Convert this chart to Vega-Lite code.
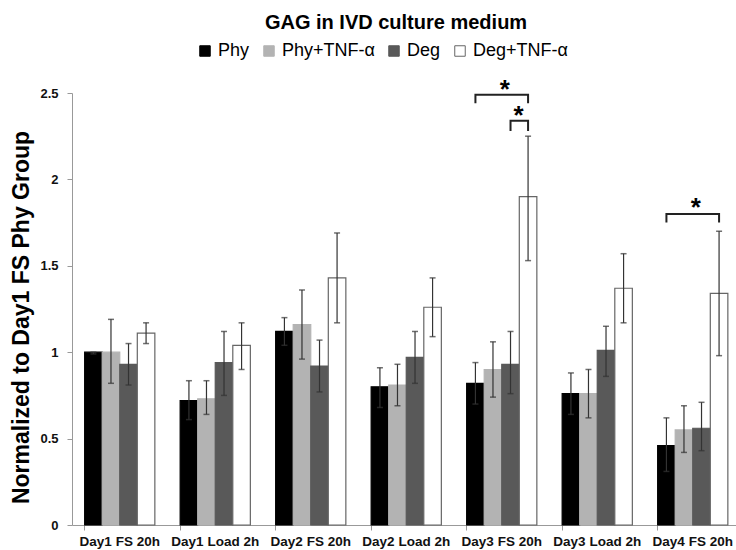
{
  "$schema": "https://vega.github.io/schema/vega-lite/v6.json",
  "width": 664,
  "height": 432,
  "autosize": {"type": "none"},
  "padding": {"left": 72, "top": 93, "right": 0, "bottom": 25},
  "background": "white",
  "title": {
    "text": "GAG in IVD culture medium",
    "font": "Liberation Sans",
    "fontSize": 20,
    "fontWeight": "bold",
    "color": "black",
    "anchor": "middle",
    "offset": 9,
    "dx": -8
  },
  "config": {"view": {"stroke": null}},
  "datasets": {
    "bars": [
      {"group": "Day1 FS 20h", "series": "Phy", "value": 1.0, "lo": 0.99, "hi": 1.0},
      {"group": "Day1 FS 20h", "series": "Phy+TNF-α", "value": 1.0, "lo": 0.82, "hi": 1.19},
      {"group": "Day1 FS 20h", "series": "Deg", "value": 0.93, "lo": 0.81, "hi": 1.05},
      {"group": "Day1 FS 20h", "series": "Deg+TNF-α", "value": 1.11, "lo": 1.05, "hi": 1.17},
      {"group": "Day1 Load 2h", "series": "Phy", "value": 0.72, "lo": 0.61, "hi": 0.835},
      {"group": "Day1 Load 2h", "series": "Phy+TNF-α", "value": 0.73, "lo": 0.64, "hi": 0.835},
      {"group": "Day1 Load 2h", "series": "Deg", "value": 0.94, "lo": 0.75, "hi": 1.12},
      {"group": "Day1 Load 2h", "series": "Deg+TNF-α", "value": 1.04, "lo": 0.9, "hi": 1.17},
      {"group": "Day2 FS 20h", "series": "Phy", "value": 1.12, "lo": 1.04, "hi": 1.2},
      {"group": "Day2 FS 20h", "series": "Phy+TNF-α", "value": 1.16, "lo": 0.96, "hi": 1.36},
      {"group": "Day2 FS 20h", "series": "Deg", "value": 0.92, "lo": 0.77, "hi": 1.07},
      {"group": "Day2 FS 20h", "series": "Deg+TNF-α", "value": 1.43, "lo": 1.17, "hi": 1.69},
      {"group": "Day2 Load 2h", "series": "Phy", "value": 0.8, "lo": 0.68, "hi": 0.91},
      {"group": "Day2 Load 2h", "series": "Phy+TNF-α", "value": 0.81, "lo": 0.69, "hi": 0.93},
      {"group": "Day2 Load 2h", "series": "Deg", "value": 0.97, "lo": 0.82, "hi": 1.12},
      {"group": "Day2 Load 2h", "series": "Deg+TNF-α", "value": 1.26, "lo": 1.09, "hi": 1.43},
      {"group": "Day3 FS 20h", "series": "Phy", "value": 0.82, "lo": 0.7, "hi": 0.94},
      {"group": "Day3 FS 20h", "series": "Phy+TNF-α", "value": 0.9, "lo": 0.74, "hi": 1.06},
      {"group": "Day3 FS 20h", "series": "Deg", "value": 0.93, "lo": 0.76, "hi": 1.12},
      {"group": "Day3 FS 20h", "series": "Deg+TNF-α", "value": 1.9, "lo": 1.53, "hi": 2.25},
      {"group": "Day3 Load 2h", "series": "Phy", "value": 0.76, "lo": 0.64, "hi": 0.88},
      {"group": "Day3 Load 2h", "series": "Phy+TNF-α", "value": 0.76, "lo": 0.62, "hi": 0.9},
      {"group": "Day3 Load 2h", "series": "Deg", "value": 1.01, "lo": 0.86, "hi": 1.15},
      {"group": "Day3 Load 2h", "series": "Deg+TNF-α", "value": 1.37, "lo": 1.17, "hi": 1.57},
      {"group": "Day4 FS 20h", "series": "Phy", "value": 0.46, "lo": 0.31, "hi": 0.62},
      {"group": "Day4 FS 20h", "series": "Phy+TNF-α", "value": 0.55, "lo": 0.42, "hi": 0.69},
      {"group": "Day4 FS 20h", "series": "Deg", "value": 0.56, "lo": 0.43, "hi": 0.71},
      {"group": "Day4 FS 20h", "series": "Deg+TNF-α", "value": 1.34, "lo": 0.98, "hi": 1.7}
    ],
    "brackets": [
      {"bracket": "a", "group": "Day3 FS 20h", "series": "Phy", "y": 2.44, "ord": 1},
      {"bracket": "a", "group": "Day3 FS 20h", "series": "Phy", "y": 2.49, "ord": 2},
      {"bracket": "a", "group": "Day3 FS 20h", "series": "Deg+TNF-α", "y": 2.49, "ord": 3},
      {"bracket": "a", "group": "Day3 FS 20h", "series": "Deg+TNF-α", "y": 2.44, "ord": 4},
      {"bracket": "b", "group": "Day3 FS 20h", "series": "Deg", "y": 2.28, "ord": 1},
      {"bracket": "b", "group": "Day3 FS 20h", "series": "Deg", "y": 2.34, "ord": 2},
      {"bracket": "b", "group": "Day3 FS 20h", "series": "Deg+TNF-α", "y": 2.34, "ord": 3},
      {"bracket": "b", "group": "Day3 FS 20h", "series": "Deg+TNF-α", "y": 2.28, "ord": 4},
      {"bracket": "c", "group": "Day4 FS 20h", "series": "Phy", "y": 1.75, "ord": 1},
      {"bracket": "c", "group": "Day4 FS 20h", "series": "Phy", "y": 1.8, "ord": 2},
      {"bracket": "c", "group": "Day4 FS 20h", "series": "Deg+TNF-α", "y": 1.8, "ord": 3},
      {"bracket": "c", "group": "Day4 FS 20h", "series": "Deg+TNF-α", "y": 1.75, "ord": 4}
    ],
    "starsCenter": [
      {"group": "Day3 FS 20h", "y": 2.47, "label": "*"},
      {"group": "Day4 FS 20h", "y": 1.79, "label": "*"}
    ],
    "starsOffset": [
      {"group": "Day3 FS 20h", "series": "Deg", "y": 2.32, "label": "*"}
    ]
  },
  "encoding": {
    "x": {
      "field": "group",
      "type": "nominal",
      "sort": null,
      "scale": {"range": [0, 668.5], "paddingInner": 0.265, "paddingOuter": 0.1325},
      "axis": {
        "title": null,
        "labelAngle": 0,
        "bandPosition": 0,
        "labelFont": "Liberation Sans",
        "labelFontWeight": "bold",
        "labelFontSize": 13.5,
        "labelColor": "#111111",
        "labelPadding": 4,
        "tickSize": 5,
        "tickColor": "#999",
        "domainColor": "#999"
      }
    }
  },
  "layer": [
    {
      "data": {"name": "bars"},
      "mark": {"type": "bar", "strokeWidth": 1.2},
      "encoding": {
        "xOffset": {"field": "series", "type": "nominal", "sort": ["Phy", "Phy+TNF-α", "Deg", "Deg+TNF-α"], "scale": {"paddingInner": 0, "paddingOuter": 0}},
        "y": {
          "field": "value",
          "type": "quantitative",
          "scale": {"domain": [0, 2.5], "nice": false},
          "axis": {
            "values": [0, 0.5, 1, 1.5, 2, 2.5],
            "format": "~g",
            "grid": false,
            "title": "Normalized to Day1 FS Phy Group",
            "titleFont": "Liberation Sans",
            "titleFontSize": 23,
            "titleFontWeight": "bold",
            "titleColor": "black",
            "titlePadding": 6,
            "titleY": 224,
            "labelFont": "Liberation Sans",
            "labelFontWeight": "bold",
            "labelFontSize": 13,
            "labelColor": "#111111",
            "labelPadding": 9,
            "tickSize": 5,
            "tickColor": "#999",
            "domainColor": "#999"
          }
        },
        "fill": {
          "field": "series",
          "type": "nominal",
          "sort": ["Phy", "Phy+TNF-α", "Deg", "Deg+TNF-α"],
          "scale": {"domain": ["Phy", "Phy+TNF-α", "Deg", "Deg+TNF-α"], "range": ["#000000", "#b3b3b3", "#595959", "#ffffff"]},
          "legend": {
            "title": null,
            "orient": "none",
            "direction": "horizontal",
            "legendX": 124,
            "legendY": -51,
            "symbolType": "square",
            "symbolSize": 110,
            "symbolStrokeWidth": 1,
            "labelFont": "Liberation Sans",
            "labelFontSize": 18,
            "labelColor": "black",
            "labelOffset": 4,
            "columnPadding": 10
          }
        },
        "stroke": {
          "field": "series",
          "type": "nominal",
          "sort": ["Phy", "Phy+TNF-α", "Deg", "Deg+TNF-α"],
          "scale": {"domain": ["Phy", "Phy+TNF-α", "Deg", "Deg+TNF-α"], "range": ["#000000", "#b3b3b3", "#595959", "#666666"]},
          "legend": {
            "title": null,
            "orient": "none",
            "direction": "horizontal",
            "legendX": 124,
            "legendY": -51,
            "symbolType": "square",
            "symbolSize": 110,
            "symbolStrokeWidth": 1,
            "labelFont": "Liberation Sans",
            "labelFontSize": 18,
            "labelColor": "black",
            "labelOffset": 4,
            "columnPadding": 10
          }
        }
      }
    },
    {
      "data": {"name": "bars"},
      "mark": {"type": "rule", "color": "#333333", "strokeWidth": 1.2},
      "encoding": {
        "xOffset": {"field": "series", "type": "nominal", "sort": ["Phy", "Phy+TNF-α", "Deg", "Deg+TNF-α"]},
        "y": {"field": "lo", "type": "quantitative"},
        "y2": {"field": "hi"}
      }
    },
    {
      "data": {"name": "bars"},
      "mark": {"type": "tick", "color": "#333333", "thickness": 1.5, "size": 6},
      "encoding": {
        "xOffset": {"field": "series", "type": "nominal", "sort": ["Phy", "Phy+TNF-α", "Deg", "Deg+TNF-α"]},
        "y": {"field": "lo", "type": "quantitative"}
      }
    },
    {
      "data": {"name": "bars"},
      "mark": {"type": "tick", "color": "#333333", "thickness": 1.5, "size": 6},
      "encoding": {
        "xOffset": {"field": "series", "type": "nominal", "sort": ["Phy", "Phy+TNF-α", "Deg", "Deg+TNF-α"]},
        "y": {"field": "hi", "type": "quantitative"}
      }
    },
    {
      "data": {"name": "brackets"},
      "mark": {"type": "line", "color": "#222222", "strokeWidth": 2},
      "encoding": {
        "xOffset": {"field": "series", "type": "nominal", "sort": ["Phy", "Phy+TNF-α", "Deg", "Deg+TNF-α"]},
        "y": {"field": "y", "type": "quantitative"},
        "detail": {"field": "bracket"},
        "order": {"field": "ord", "type": "quantitative"}
      }
    },
    {
      "data": {"name": "starsCenter"},
      "mark": {"type": "text", "font": "Liberation Sans", "fontSize": 26, "fontWeight": "bold", "color": "black", "baseline": "alphabetic", "dx": 3},
      "encoding": {
        "y": {"field": "y", "type": "quantitative"},
        "text": {"field": "label"}
      }
    },
    {
      "data": {"name": "starsOffset"},
      "mark": {"type": "text", "font": "Liberation Sans", "fontSize": 26, "fontWeight": "bold", "color": "black", "baseline": "alphabetic", "dx": 8},
      "encoding": {
        "xOffset": {"field": "series", "type": "nominal", "sort": ["Phy", "Phy+TNF-α", "Deg", "Deg+TNF-α"]},
        "y": {"field": "y", "type": "quantitative"},
        "text": {"field": "label"}
      }
    }
  ]
}
